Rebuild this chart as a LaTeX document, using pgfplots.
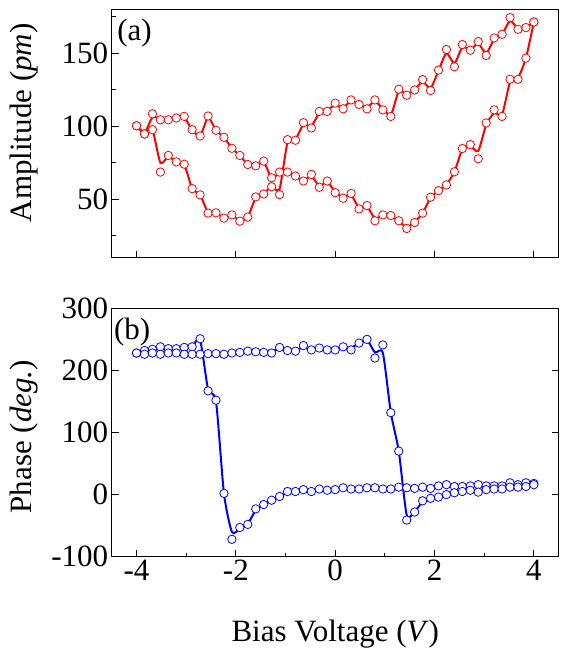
\documentclass[border=0pt]{standalone}
\usepackage{fontspec}
\setmainfont{Liberation Serif}
\usepackage{pgfplots}
\usepackage{pgfplotstable}
\pgfplotsset{compat=1.18}

\pgfplotstableread{
x y yl
-4.00 100.3 100.3
-3.84 94.7 95.5
-3.68 108.5 106
-3.52 104.4 105
-3.36 104.4 104.5
-3.20 105.6 105.5
-3.04 106.7 106
-2.88 97.6 97.6
-2.72 93.3 93.3
-2.56 107 106
-2.40 97.2 97.2
-2.24 92.4 92.4
-2.08 84.9 84.9
-1.92 80 80
-1.76 73.8 73.8
-1.60 72.9 72.9
-1.44 76.1 75.5
-1.28 64.7 64.7
-1.12 68.6 68
-0.96 68.6 68.6
-0.80 65.9 65.9
-0.64 62.5 62.5
-0.48 67 66
-0.32 58.2 59
-0.16 62.5 62
0.00 54.5 55
0.16 50.7 51.5
0.32 54 53
0.48 43.4 44
0.64 45.7 45
0.80 35.3 37
0.96 39.3 39
1.12 38.9 38.5
1.28 35.3 35
1.44 30 31
1.60 34.1 34.5
1.76 40.5 40.5
1.92 51.4 51
2.08 55.9 56
2.24 59.8 60
2.40 68.8 68.8
2.56 84.7 84
2.72 87.4 86.5
2.88 77.7 83
3.04 102.2 101
3.20 111.2 109
3.36 106.7 108
3.52 132.1 130
3.68 132.1 133
3.84 146.6 146.6
4.00 171.3 171.3
}\ampA

\pgfplotstableread{
x y yl
-4.00 100.3 100.3
-3.84 94.7 95.5
-3.68 97.6 97.6
-3.52 68.6 75
-3.36 80 79
-3.20 75.6 76
-3.04 74 74
-2.88 57.3 57.3
-2.72 53 53
-2.56 40.5 41
-2.40 40.7 40.5
-2.24 37.1 37.5
-2.08 39.3 39
-1.92 35 35.5
-1.76 37.8 38
-1.60 51.6 51
-1.44 53.6 54
-1.28 58.6 58.5
-1.12 53.2 57
-0.96 90.8 89
-0.80 90.4 91
-0.64 102.4 101
-0.48 98.8 100
-0.32 110.1 109
-0.16 110.1 111
0.00 115.8 114.5
0.16 111.9 113
0.32 118 117
0.48 114.9 115
0.64 111.9 113
0.80 118 117
0.96 111.2 112
1.12 106.7 107.5
1.28 125.3 124
1.44 121.2 122
1.60 124.8 125
1.76 131.9 130.5
1.92 124.4 126
2.08 138.4 138
2.24 152.5 150
2.40 140.7 143
2.56 155.9 154
2.72 152 152.5
2.88 157.9 156.5
3.04 148.4 150
3.20 160.4 159.5
3.36 162.9 163
3.52 174.3 172
3.68 166.3 167
3.84 167.5 167.5
4.00 171.3 171.3
}\ampB

\pgfplotstableread{
x y yl
-4.00 228 228
-3.84 232 231
-3.68 234 234
-3.52 238 237
-3.36 235 235
-3.20 235 235.5
-3.04 237 237
-2.88 238 239
-2.72 251 249
-2.56 167 170
-2.40 152 150
-2.24 2 2
-2.08 -72 -60
-1.92 -53 -55
-1.76 -48 -47
-1.60 -23 -25
-1.44 -16 -16
-1.28 -9 -9
-1.12 -3 -3
-0.96 5 3
-0.80 5 5
-0.64 8 7
-0.48 5 6
-0.32 9 8
-0.16 7 7.5
0.00 8 8
0.16 11 10
0.32 9 9.5
0.48 9 9.5
0.64 11 10.5
0.80 11 10.5
0.96 9 10
1.12 9 10.5
1.28 12 11.5
1.44 11 11
1.60 10 10.5
1.76 12 11.5
1.92 10 11.5
2.08 14 13.5
2.24 16 15
2.40 13 14
2.56 13 13.5
2.72 14 14
2.88 16 15
3.04 14 14.5
3.20 14 14.5
3.36 14 15
3.52 19 17.5
3.68 16 17
3.84 19 18
4.00 18 18
}\phL

\pgfplotstableread{
x y yl
-4.00 228 228
-3.84 226 227
-3.68 228 227
-3.52 226 227
-3.36 228 227
-3.20 228 227
-3.04 226 226.5
-2.88 226 226
-2.72 226 226
-2.56 227 226.5
-2.40 227 227
-2.24 226 227
-2.08 228 228
-1.92 229 229
-1.76 231 230
-1.60 230 230
-1.44 229 230
-1.28 228 231
-1.12 237 234
-0.96 232 233
-0.80 231 234
-0.64 240 236
-0.48 233 235
-0.32 236 235
-0.16 233 235
0.00 233 235
0.16 238 236
0.32 233 237
0.48 244 243
0.64 250 249
0.80 220 229
0.96 241 228
1.12 132 132
1.28 70 70
1.44 -41 -33
1.60 -28 -27
1.76 -10 -12
1.92 -6 -6
2.08 -4 -4
2.24 0 0
2.40 3 3
2.56 5 5
2.72 7 7
2.88 4 5.5
3.04 8 8
3.20 9 9
3.36 9 9.5
3.52 12 11.5
3.68 12 12.5
3.84 13 13.5
4.00 16 16
}\phR

\pgfplotsset{
  myaxis/.style={
    scale only axis, width=447pt, height=248.4pt,
    xmin=-4.5, xmax=4.5,
    xtick={-4,-2,0,2,4},
    tick align=inside,
    axis line style={line width=1.3pt},
    major tick length=7pt, minor tick length=4pt,
    every tick/.style={line width=1.1pt, black},
    tick label style={font=\fontsize{31}{36}\selectfont},
    label style={font=\fontsize{31}{36}\selectfont},
    xtick pos=bottom,
  },
  redline/.style={red, line width=2pt, smooth, tension=0.4, no marks},
  redmark/.style={only marks, mark=*, mark size=4.2pt, mark options={fill=white, draw=red, line width=0.8pt}},
  blueline/.style={blue, line width=2pt, smooth, tension=0.4, no marks},
  bluemark/.style={only marks, mark=*, mark size=4.2pt, mark options={fill=white, draw=blue, line width=0.8pt}},
}

\begin{document}
\begin{tikzpicture}
\path[use as bounding box] (-111.7pt,-647.7pt) rectangle (456.3pt,9.3pt);
\begin{axis}[myaxis,
  at={(0,0)}, anchor=north west,
  ymin=10, ymax=180,
  ytick={50,100,150},
  yticklabels={50,100,150},
  minor ytick={25,75,125,175},
  ytick pos=left,
  xticklabels={},
  ylabel={Amplitude (\textit{pm})},
  ylabel style={at={(rel axis cs:-0.1794,0.543)}, anchor=base, rotate=0},
]
\addplot[redline] table[x=x,y=yl] {\ampA};
\addplot[redline] table[x=x,y=yl] {\ampB};
\addplot[redmark] table[x=x,y=y] {\ampA};
\addplot[redmark] table[x=x,y=y] {\ampB};
\node[anchor=north west, inner sep=0pt, font=\fontsize{31}{36}\selectfont] at (rel axis cs:0.012,0.96) {(a)};
\end{axis}

\begin{axis}[myaxis,
  at={(0,-299pt)}, anchor=north west,
  ymin=-100, ymax=300,
  ytick={-100,0,100,200,300},
  yticklabels={-100,0,100,200,300},
  xticklabels={-4,-2,0,2,4},
  minor xtick={-3,-1,1,3},
  ytick pos=both,
  yticklabel pos=left,
  ylabel={Phase (\textit{deg.})},
  ylabel style={at={(rel axis cs:-0.1794,0.483)}, anchor=base, rotate=0},
  xlabel={Bias Voltage (\textit{V})},
  xlabel style={at={(rel axis cs:0.5,-0.3422)}, anchor=base},
]
\addplot[blueline] table[x=x,y=yl] {\phL};
\addplot[blueline] table[x=x,y=yl] {\phR};
\addplot[bluemark] table[x=x,y=y] {\phL};
\addplot[bluemark] table[x=x,y=y] {\phR};
\node[anchor=north west, inner sep=0pt, font=\fontsize{31}{36}\selectfont] at (rel axis cs:0.005,0.96) {(b)};
\end{axis}
\end{tikzpicture}
\end{document}
